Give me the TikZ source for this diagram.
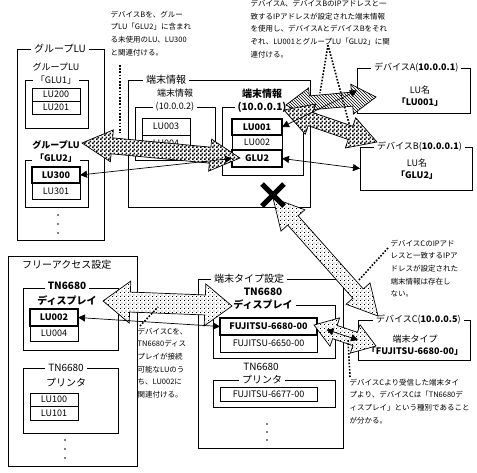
\documentclass[tikz,border=0pt]{standalone}
\usepackage{fontspec}
\setmainfont{Noto Sans CJK JP}
\usetikzlibrary{patterns,arrows.meta,calc}
\pgfdeclarepatternformonly{checker}{\pgfqpoint{0pt}{0pt}}{\pgfqpoint{4pt}{4pt}}{\pgfqpoint{4pt}{4pt}}{%
 \pgfpathrectangle{\pgfqpoint{0pt}{0pt}}{\pgfqpoint{2pt}{2pt}}%
 \pgfpathrectangle{\pgfqpoint{2pt}{2pt}}{\pgfqpoint{2pt}{2pt}}%
 \pgfusepath{fill}}
\pgfdeclarepatternformonly{sdots}{\pgfqpoint{0pt}{0pt}}{\pgfqpoint{4pt}{4pt}}{\pgfqpoint{4pt}{4pt}}{%
 \pgfpathrectangle{\pgfqpoint{0pt}{0pt}}{\pgfqpoint{1pt}{1pt}}%
 \pgfpathrectangle{\pgfqpoint{2pt}{2pt}}{\pgfqpoint{1pt}{1pt}}%
 \pgfusepath{fill}}
\newcommand\bx[7][]{\node[box,#1,minimum width={#5-#3},minimum height={#6-#4}] (#2) at ({(#3+#5)/2},{(#4+#6)/2}) {#7};}
\newcommand\blockarrow[6]{%
 \filldraw[bigarr,#1] let \p1=(#2), \p2=(#3), \n1={atan2(\y2-\y1,\x2-\x1)}, \n2={veclen(\x2-\x1,\y2-\y1)} in
 [shift={(\p1)},rotate=\n1]
 (0pt,0pt) -- ({#6pt},{#5pt}) -- ({#6pt},{#4pt}) -- ({\n2*1pt-#6pt},{#4pt}) -- ({\n2*1pt-#6pt},{#5pt})
 -- ({\n2*1pt},{0pt}) -- ({\n2*1pt-#6pt},{-#5pt}) -- ({\n2*1pt-#6pt},{-#4pt}) -- ({#6pt},{-#4pt}) -- ({#6pt},{-#5pt}) -- cycle;}
\tikzset{
 box/.style={draw, line width=0.8pt, inner sep=0pt, outer sep=0pt},
 cell/.style={box, font=\fontsize{9}{10}\selectfont},
 bcell/.style={box, line width=2pt, font=\bfseries\fontsize{9}{10}\selectfont},
 ttl/.style={inner xsep=3pt, inner ysep=1pt, font=\fontsize{10}{12}\selectfont},
 bttl/.style={ttl, font=\bfseries\fontsize{10}{12}\selectfont},
 st/.style={inner xsep=3pt, inner ysep=1pt, font=\fontsize{9}{11}\selectfont},
 bst/.style={st, font=\bfseries\fontsize{9}{11}\selectfont},
 ann/.style={font=\fontsize{7.5}{12.7}\selectfont, align=left, anchor=north west, inner sep=0.5pt},
 devtxt/.style={align=center, font=\fontsize{9}{12.5}\selectfont},
 bigarr/.style={draw=black, line width=0.7pt, preaction={fill=white}},
 thinarr/.style={{Triangle[length=7pt,width=7pt]}-{Triangle[length=7pt,width=7pt]}, line width=0.7pt},
 annline/.style={line width=1.6pt, dash pattern=on 1.6pt off 1.6pt},
}
\begin{document}
\begin{tikzpicture}[x=1pt,y=-1pt]
\useasboundingbox (0,0) rectangle (477,472);
% ---------- Group LU ----------
\bx{gLU}{17}{49}{104}{240}{}
\node[ttl,fill=white,anchor=west] (gLUt) at (31,49) {グループLU};
\bx{glu1}{25}{80}{88}{128}{}
\node[st] (glu1a) at (56,67) {グループLU};
\node[st,fill=white] (glu1b) at (56,80) {「GLU1」};
\bx[cell]{lu200}{32}{88}{80}{101}{LU200}
\bx[cell]{lu201}{32}{101}{80}{114}{LU201}
\node[bst] (glu2a) at (56,145) {グループLU};
\bx{glu2}{25}{160}{88}{207}{}
\node[bst,fill=white] (glu2b) at (56,158) {「GLU2」};
\bx[cell]{lu301}{32}{183}{80}{199}{LU301}
\bx[bcell]{lu300}{32}{167}{80}{183}{LU300}
\fill (58,215) circle[radius=0.8] (58,224) circle[radius=0.8] (58,233) circle[radius=0.8];
% ---------- Terminal info ----------
\bx{ti}{128}{80}{310}{207}{}
\node[ttl,fill=white,anchor=west] (tit) at (143,80) {端末情報};
\bx{ti2}{135}{107}{215}{160}{}
\node[st] (ti2a) at (175,93) {端末情報};
\node[st,fill=white] (ti2b) at (175,107) {(10.0.0.2)};
\bx[cell]{lu003}{142}{118}{190}{135}{LU003}
\bx[cell]{lu004}{142}{135}{190}{151}{LU004}
\bx{ti1}{222}{107}{303}{175}{}
\node[bttl] (ti1a) at (262,94) {端末情報};
\node[bttl,fill=white] (ti1b) at (262,107) {(10.0.0.1)};
\bx[cell]{lu002}{232}{135}{282}{150}{LU002}
\bx[bcell]{lu001}{232}{119}{282}{135}{LU001}
\bx[bcell]{glu2c}{232}{150}{282}{167}{GLU2}
% ---------- Devices A, B ----------
\bx{devA}{357}{68}{470}{113}{}
\node[st,fill=white,anchor=west] (devAt) at (371,68) {デバイスA(\textbf{10.0.0.1})};
\node[devtxt] (devAx) at (420,96) {LU名\\\textbf{「LU001」}};
\bx{devB}{360}{147}{472}{190}{}
\node[st,fill=white,anchor=west] (devBt) at (374,147) {デバイスB(\textbf{10.0.0.1})};
\node[devtxt] (devBx) at (417,169) {LU名\\\textbf{「GLU2」}};
% ---------- Free access ----------
\bx{fa}{8}{256}{137}{466}{}
\node[ttl,anchor=west] (fat) at (19,265) {フリーアクセス設定};
\bx{fad}{23}{288}{118}{350}{}
\node[bttl,fill=white] (fada) at (67,286) {TN6680};
\node[bttl] (fadb) at (67,301) {ディスプレイ};
\bx[cell]{fa004}{30}{326}{78}{341}{LU004}
\bx[bcell]{fa002}{30}{309}{78}{326}{LU002}
\bx{fap}{23}{368}{118}{433}{}
\node[ttl,fill=white] (fapa) at (66,368) {TN6680};
\node[ttl] (fapb) at (66,383) {プリンタ};
\bx[cell]{lu100}{30}{393}{78}{406}{LU100}
\bx[cell]{lu101}{30}{406}{78}{420}{LU101}
\fill (65,440) circle[radius=0.8] (65,449) circle[radius=0.8] (65,458) circle[radius=0.8];
% ---------- Terminal type ----------
\bx{tt}{198}{279}{343}{448}{}
\node[ttl,fill=white,anchor=west] (ttt) at (211,279) {端末タイプ設定};
\bx{ttd}{213}{305}{335}{358}{}
\node[bttl] (ttda) at (263,292) {TN6680};
\node[bttl,fill=white] (ttdb) at (263,305) {ディスプレイ};
\bx[cell]{fuj2}{220}{335}{317}{352}{FUJITSU-6650-00}
\bx[bcell]{fuj1}{220}{318}{317}{335}{FUJITSU-6680-00}
\node[ttl] (ttpa) at (261,367) {TN6680};
\bx{ttp}{213}{380}{335}{407}{}
\node[ttl,fill=white] (ttpb) at (262,380) {プリンタ};
\bx[cell]{fuj3}{220}{387}{317}{401}{FUJITSU-6677-00}
\fill (267,424) circle[radius=0.8] (267,432) circle[radius=0.8] (267,440) circle[radius=0.8];
% ---------- Device C ----------
\bx{devC}{358}{320}{470}{360}{}
\node[st,fill=white,anchor=west] (devCt) at (373,320) {デバイスC(\textbf{10.0.0.5})};
\node[devtxt] (devCx) at (415,345) {端末タイプ\\\textbf{「FUJITSU-6680-00」}};
% ---------- Annotations ----------
\node[ann] (annB) at (110,10) {デバイスBを、グルー\\プLU「GLU2」に含まれ\\る未使用のLU、LU300\\と関連付ける。};
\node[ann] (annAB) at (250,-0.5) {デバイスA、デバイスBのIPアドレスと一\\致するIPアドレスが設定された端末情報\\を使用し、デバイスAとデバイスBをそれ\\ぞれ、LU001とグループLU「GLU2」に関\\連付ける。};
\node[ann] (annC1) at (137,327) {デバイスCを、\\TN6680ディス\\プレイが接続\\可能なLUのう\\ち、LU002に\\関連付ける。};
\node[ann] (annC2) at (390,239) {デバイスCのIPアド\\レスと一致するIPア\\ドレスが設定された\\端末情報は存在し\\ない。};
\node[ann] (annC3) at (349,378) {デバイスCより受信した端末タイ\\プより、デバイスCは「TN6680デ\\ィスプレイ」という種別であること\\が分かる。};
% ---------- Arrow end points ----------
\coordinate (ck1a) at (82,143);  \coordinate (ck1b) at (240,158);
\coordinate (haa) at (286,105);  \coordinate (hab) at (376,97);
\coordinate (ck2a) at (284,110); \coordinate (ck2b) at (377,142);
\coordinate (dt1a) at (103,301); \coordinate (dt1b) at (232,306);
\coordinate (dt2a) at (273,198); \coordinate (dt2b) at (378,316);
\coordinate (dt3a) at (314,325); \coordinate (dt3b) at (376,346);
% ---------- Big arrows ----------
\blockarrow{pattern=north west lines}{haa}{hab}{7}{15}{24}
\blockarrow{pattern=checker}{ck2a}{ck2b}{7}{16}{28}
\blockarrow{pattern=checker}{ck1a}{ck1b}{8}{16}{30}
\blockarrow{pattern=sdots}{dt1a}{dt1b}{10}{21}{27}
\blockarrow{pattern=sdots}{dt2a}{dt2b}{7}{16}{30}
\blockarrow{pattern=sdots}{dt3a}{dt3b}{7}{15}{22}
% ---------- Thin arrows ----------
\draw[thinarr] (lu300.east) -- (glu2c.west);
\draw[thinarr] (lu001.east) -- (devA.west);
\draw[thinarr] (glu2c.east) -- (devB.west);
\draw[thinarr] (fa002.east) -- (fuj1.west);
\draw[thinarr, shorten <=10pt] (fuj1.east) -- (devC.west);
% ---------- Dotted annotation lines ----------
\coordinate (bl1) at (120,65);  \coordinate (bl2) at (120,133);
\coordinate (al0) at (328,45);  \coordinate (al1) at (320,93); \coordinate (al2) at (350,127);
\coordinate (cl1) at (140,326); \coordinate (cl2) at (158,307);
\coordinate (dl1) at (388,248); \coordinate (dl2) at (358,281);
\coordinate (el1) at (350,377); \coordinate (el2) at (348,340);
\draw[annline] (bl1) -- (bl2);
\draw[annline] (al0) -- (al1);
\draw[annline] (al0) -- (al2);
\draw[annline] (cl1) -- (cl2);
\draw[annline] (dl1) -- (dl2);
\draw[annline] (el1) -- (el2);
% ---------- X mark ----------
\coordinate (xm) at (273,195);
\draw[line width=5pt] ($(xm)+(-11,-11)$) -- ($(xm)+(11,11)$);
\draw[line width=5pt] ($(xm)+(-11,11)$) -- ($(xm)+(11,-11)$);
\end{tikzpicture}
\end{document}
